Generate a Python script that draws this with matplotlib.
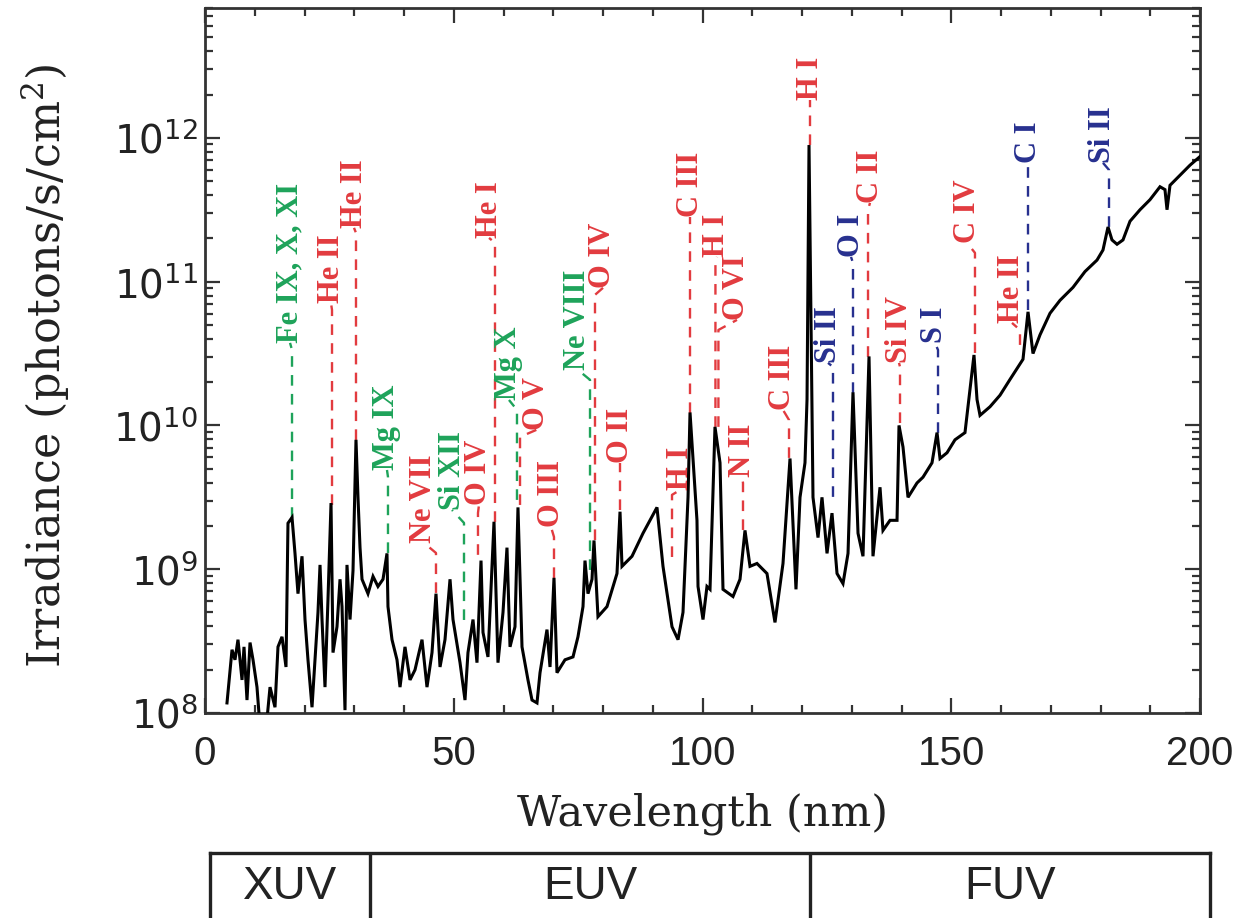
import numpy as np
import matplotlib
matplotlib.use("Agg")
import matplotlib.pyplot as plt
from matplotlib.ticker import FixedLocator, LogLocator, NullFormatter, FuncFormatter

# ---------------- data ----------------
wavelength_nm = [
    4.42, 5.43, 6.03, 6.63, 7.44, 7.84, 8.44, 9.05, 9.65, 10.45, 11.06, 12.06, 13.07, 14.07,
    14.67, 15.48, 16.28, 16.68, 17.49, 18.09, 18.69, 19.50, 20.10, 20.70, 21.51, 22.11, 22.71,
    23.12, 23.52, 24.12, 24.72, 25.33, 25.73, 26.53, 27.14, 27.54, 28.14, 28.54, 29.15, 29.75,
    30.35, 30.75, 31.16, 31.56, 32.76, 33.77, 34.77, 35.78, 36.58, 36.78, 37.59, 38.59, 39.20,
    40.20, 41.21, 42.21, 43.62, 44.62, 45.63, 46.43, 47.24, 48.24, 49.25, 49.85, 51.26, 52.26,
    52.86, 53.87, 54.67, 55.48, 55.88, 56.88, 58.09, 58.89, 59.90, 60.70, 61.31, 62.31, 62.91,
    63.72, 64.92, 65.73, 66.73, 67.34, 68.74, 69.35, 70.15, 70.75, 72.36, 73.97, 74.97, 75.98,
    76.38, 76.98, 77.79, 78.19, 78.99, 80.80, 82.81, 83.42, 83.82, 85.83, 88.04, 90.85, 92.06,
    93.87, 95.08, 96.08, 97.09, 97.49, 98.89, 99.10, 100.10, 100.90, 101.51, 102.51, 103.52,
    104.12, 106.13, 107.54, 108.54, 109.55, 110.95, 112.96, 114.57, 116.18, 117.59, 118.79,
    119.60, 120.60, 121.01, 121.41, 122.21, 123.22, 124.02, 125.03, 126.03, 127.04, 128.24,
    129.25, 130.25, 131.26, 132.26, 133.47, 134.27, 135.68, 136.28, 137.69, 139.10, 139.50,
    140.30, 141.31, 143.12, 144.32, 146.13, 147.14, 147.74, 149.15, 150.75, 152.76, 154.57,
    155.18, 155.78, 157.79, 159.80, 161.81, 164.42, 165.43, 166.43, 167.84, 169.85, 171.86,
    174.47, 176.88, 179.30, 180.50, 181.51, 182.31, 183.32, 184.52, 185.93, 187.94, 189.95,
    191.96, 192.96, 193.37, 193.97, 195.98, 197.99, 200.00,
]
log10_irradiance = [
    8.07, 8.44, 8.37, 8.51, 8.23, 8.46, 8.09, 8.49, 8.37, 8.18, 7.90, 7.81, 8.18, 8.04,
    8.46, 8.53, 8.32, 9.32, 9.36, 9.11, 8.83, 9.09, 8.65, 8.37, 8.04, 8.37, 8.70,
    9.03, 8.65, 8.18, 8.79, 9.46, 8.42, 8.60, 8.93, 8.74, 8.02, 9.03, 8.65, 8.99,
    9.90, 9.50, 9.15, 8.93, 8.83, 8.95, 8.88, 8.93, 9.11, 8.74, 8.51, 8.37, 8.18,
    8.46, 8.23, 8.30, 8.51, 8.18, 8.42, 8.83, 8.32, 8.51, 8.93, 8.65, 8.35, 8.09,
    8.42, 8.65, 8.35, 9.06, 8.56, 8.39, 9.33, 8.35, 8.70, 9.15, 8.46, 8.60, 9.43,
    8.46, 8.23, 8.09, 8.07, 8.28, 8.58, 8.32, 8.94, 8.28, 8.37, 8.39, 8.53, 8.74,
    9.06, 8.83, 8.93, 9.20, 8.67, 8.74, 8.97, 9.40, 9.02, 9.09, 9.25, 9.43, 9.02,
    8.60, 8.51, 8.70, 9.50, 10.09, 9.34, 8.88, 8.65, 8.88, 8.86, 9.99, 9.74,
    8.86, 8.81, 8.93, 9.27, 9.02, 9.04, 8.97, 8.63, 9.04, 9.77, 8.86,
    9.50, 9.74, 10.18, 11.95, 9.50, 9.22, 9.50, 9.11, 9.39, 8.97, 8.90,
    9.11, 10.23, 9.25, 9.09, 10.48, 9.09, 9.57, 9.27, 9.34, 9.34, 10.00,
    9.85, 9.50, 9.60, 9.64, 9.74, 9.95, 9.77, 9.81, 9.90, 9.95, 10.49,
    10.18, 10.07, 10.13, 10.21, 10.32, 10.46, 10.79, 10.50, 10.63, 10.78, 10.87,
    10.96, 11.07, 11.15, 11.22, 11.38, 11.29, 11.26, 11.29, 11.42, 11.50, 11.57,
    11.66, 11.64, 11.50, 11.67, 11.74, 11.81, 11.87,
]

# emission line identifications
line_names = ["Fe IX, X, XI", "He II", "He II", "Mg IX", "Ne VII", "Si XII", "O IV", "He I",
              "Mg X", "O V", "O III", "Ne VIII", "O IV", "O II", "H I", "C III", "H I", "O VI",
              "N II", "C III", "H I", "Si II", "O I", "C II", "Si IV", "S I", "C IV", "He II",
              "C I", "Si II"]
line_groups = ["g", "r", "r", "g", "r", "g", "r", "r", "g", "r", "r", "g", "r", "r", "r",
               "r", "r", "r", "r", "r", "r", "b", "b", "r", "r", "b", "r", "r", "b", "b"]
line_wavelengths = [17.49, 25.53, 30.35, 36.78, 46.43, 52.06, 54.87, 58.29, 62.71, 63.32,
                    70.15, 77.39, 78.39, 83.42, 93.87, 97.49, 102.6, 103.2, 108.14, 117.39,
                    121.61, 126.23, 130.25, 133.27, 139.70, 147.34, 154.77, 163.82, 165.43,
                    181.71]
line_peaks_log = [9.357, 9.447, 9.899, 9.113, 8.835, 8.647, 9.100, 9.329, 9.482, 9.447,
                  8.939, 8.995, 9.203, 9.412, 9.085, 10.087, 9.99, 9.99, 9.273, 9.774,
                  11.951, 9.503, 10.226, 10.477, 10.017, 9.948, 10.504, 10.560, 10.803,
                  11.381]

band_names = ["XUV", "EUV", "FUV"]
band_edges = [0, 32, 120, 200]

# ---------------- layout (label placement) ----------------
label_text_x = [17.09, 25.33, 29.95, 36.58, 44.02, 49.65, 55.07, 57.09, 61.1, 66.6,
                69.55, 74.97, 80.0, 83.42, 95.48, 97.49, 102.91, 106.93, 107.94, 116.18,
                121.61, 125.23, 129.85, 133.67, 139.50, 146.73, 153.17, 162.21, 165.43,
                180.50]
label_text_ylog = [10.574, 10.85, 11.374, 9.690, 9.183, 9.412, 9.447, 11.304, 10.177, 9.969,
                   9.294, 10.386, 10.957, 9.739, 9.551, 11.450, 11.172, 10.734, 9.642, 10.108,
                   12.264, 10.435, 11.172, 11.548, 10.435, 10.574, 11.270, 10.713, 11.826,
                   11.826]
label_line_top_log = [10.525, 10.803, 11.339, 9.642, 9.113, 9.322, 9.391, 11.27, 10.108, 9.920,
                      9.224, 10.317, 10.908, 9.711, 9.517, 11.409, 11.137, 10.664, 9.600,
                      10.038, 12.216, 10.407, 11.130, 11.499, 10.407, 10.525, 11.200, 10.664,
                      11.757, 11.777]

group_colors = {"r": "#e23b3f", "g": "#1ea35a", "b": "#27308f"}

W, H = 1244, 918
fig = plt.figure(figsize=(W / 100, H / 100), dpi=100)
plt.rcParams["mathtext.fontset"] = "dejavuserif"

ax = fig.add_axes([205 / W, 1 - 713 / H, 995 / W, 705 / H])
irr = 10 ** np.array(log10_irradiance)
ax.plot(wavelength_nm, irr, color="black", lw=2.2, solid_joinstyle="miter", zorder=3)

ax.set_yscale("log")
ax.set_xlim(0, 200)
ax.set_ylim(1e8, 8e12)

for name, grp, wl, pk, tx, ty, lt in zip(line_names, line_groups, line_wavelengths,
                                         line_peaks_log, label_text_x, label_text_ylog,
                                         label_line_top_log):
    c = group_colors[grp]
    ax.plot([wl, wl, tx], [10 ** pk, 10 ** lt, 10 ** ty], color=c, lw=1.7,
            ls=(0, (4.5, 3.5)), zorder=2)
    ax.text(tx, 10 ** ty, name, rotation=90, ha="center", va="bottom", color=c,
            fontsize=22, fontweight="semibold", family="Liberation Serif", zorder=4)

# ticks
ax.xaxis.set_major_locator(FixedLocator([0, 50, 100, 150, 200]))
ax.xaxis.set_minor_locator(FixedLocator(list(range(0, 201, 10))))
ax.yaxis.set_major_locator(LogLocator(base=10, numticks=20))
ax.yaxis.set_minor_locator(LogLocator(base=10, subs=np.arange(2, 10), numticks=100))
ax.yaxis.set_minor_formatter(NullFormatter())
ax.yaxis.set_major_formatter(FuncFormatter(lambda v, p: r"$\mathdefault{10^{%d}}$" % round(np.log10(v))))
ax.tick_params(which="both", direction="in", top=True, right=True, width=1.6, color="#333333")
ax.tick_params(which="major", length=11)
ax.tick_params(which="minor", length=6)
ax.tick_params(axis="x", which="major", pad=16, labelsize=29)
ax.tick_params(axis="y", which="major", pad=5, labelsize=28)
for lab in ax.get_xticklabels():
    lab.set_family("Liberation Sans")
    lab.set_color("#222222")
for lab in ax.get_yticklabels():
    lab.set_family("DejaVu Sans")
    lab.set_color("#222222")
for sp in ax.spines.values():
    sp.set_linewidth(2.0)
    sp.set_color("#333333")

ax.set_xlabel("Wavelength (nm)", fontsize=31, family="DejaVu Serif", color="#222222")
ax.xaxis.set_label_coords(0.5, -0.113)
ax.set_ylabel(r"Irradiance (photons/s/cm$^2$)", fontsize=32, family="DejaVu Serif",
              color="#222222")
ax.yaxis.set_label_coords(-0.134, 0.492)

# spectral band box
bx = fig.add_axes([210 / W, 0, 1000 / W, (H - 853) / H])
bx.set_xlim(band_edges[0], band_edges[-1])
bx.set_ylim(0, 1)
bx.set_xticks([])
bx.set_yticks([])
bx.spines["bottom"].set_visible(False)
for s in ("top", "left", "right"):
    bx.spines[s].set_linewidth(2.4)
    bx.spines[s].set_color("#222222")
for e in band_edges[1:-1]:
    bx.axvline(e, color="#222222", lw=2.4)
for i, nm in enumerate(band_names):
    bx.text((band_edges[i] + band_edges[i + 1]) / 2, 0.47, nm, ha="center", va="center",
            fontsize=33, family="Liberation Sans", color="#222222")

fig.savefig("out.png", dpi=100)
